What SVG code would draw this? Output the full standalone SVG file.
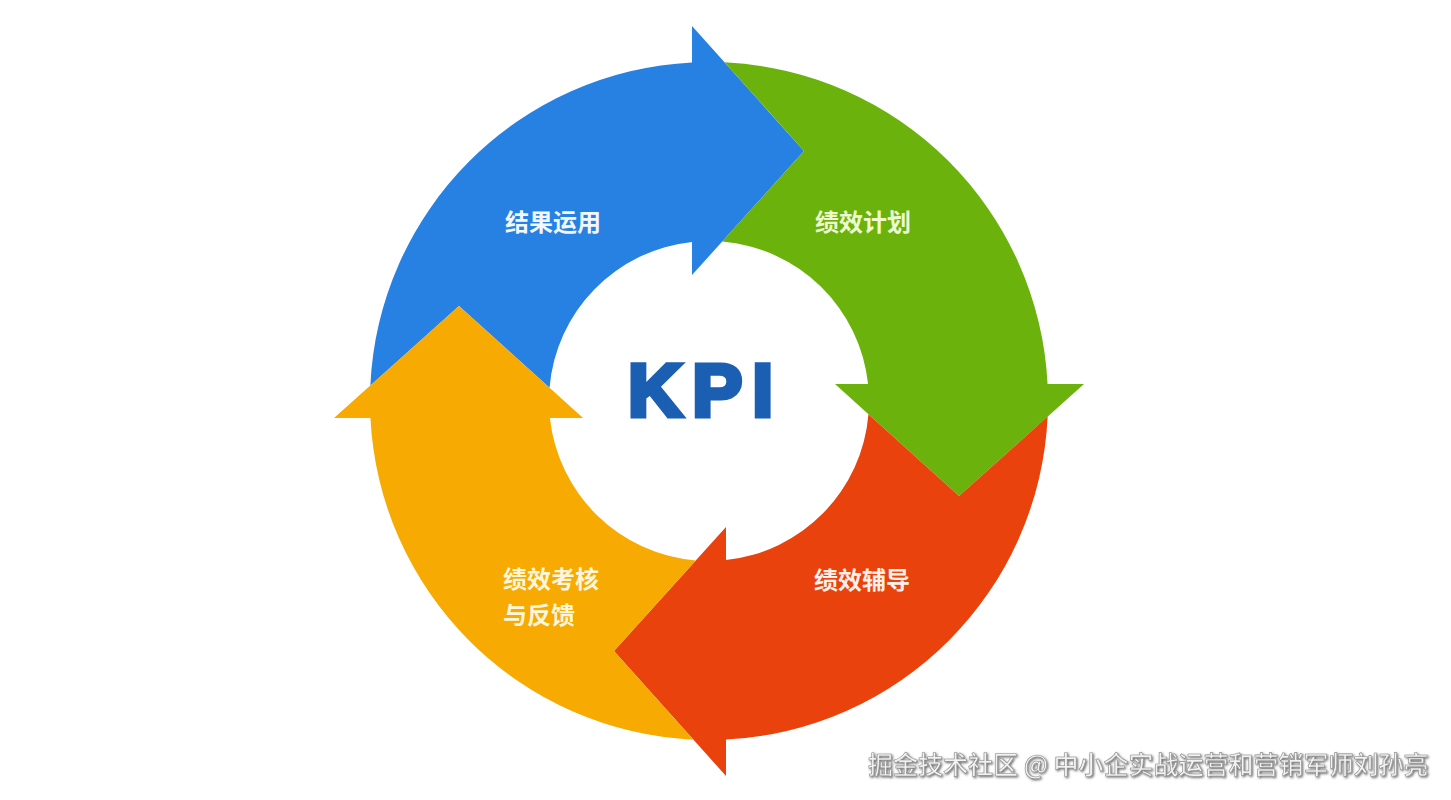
<svg xmlns="http://www.w3.org/2000/svg" xmlns:xlink="http://www.w3.org/1999/xlink" width="1451" height="800" viewBox="0 0 1451 800">
  <style>
    .lbl { font-family: "Noto Sans CJK SC", "Noto Sans", sans-serif; font-size: 24px; font-weight: 700; }
    .kpi { font-family: "Liberation Sans", Arial, sans-serif; font-size: 75px; font-weight: 700; fill: #1b5fb2; stroke: #1b5fb2; stroke-width: 5; stroke-linejoin: miter; letter-spacing: 10px; }
    .wm { font-family: "Noto Sans CJK SC", "Noto Sans", sans-serif; font-size: 25px; font-weight: 500; fill: #f2f2f2; stroke: #8c8c8c; stroke-width: 0.6; }
  </style>
  <defs>
    <path id="arrowShape" d="M -338.64,-15.58 A 339 339 0 0 1 -17,-338.57 L -17,-375 L 95,-250 L -17,-126 L -17,-159.09 A 160 160 0 0 0 -159.45,-13.22 L -250,-95 Z"/>
    <filter id="wmShadow" x="-5%" y="-30%" width="110%" height="160%">
      <feDropShadow dx="1.2" dy="1.2" stdDeviation="0.8" flood-color="#444" flood-opacity="0.8"/>
    </filter>
  </defs>
  <rect width="1451" height="800" fill="#ffffff"/>

  <g id="node-jieguoyunyong">
    <use xlink:href="#arrowShape" href="#arrowShape" transform="translate(709,401) rotate(0)" fill="#2681e3"/>
    <text class="lbl" x="553" y="231" text-anchor="middle" fill="#f2f7ff">结果运用</text>
  </g>

  <g id="node-jixiaojihua">
    <use xlink:href="#arrowShape" href="#arrowShape" transform="translate(709,401) rotate(90)" fill="#6bb20c"/>
    <text class="lbl" x="863" y="231" text-anchor="middle" fill="#eefad2">绩效计划</text>
  </g>

  <g id="node-jixiaofudao">
    <use xlink:href="#arrowShape" href="#arrowShape" transform="translate(709,401) rotate(180)" fill="#e9420d"/>
    <text class="lbl" x="862" y="589" text-anchor="middle" fill="#fff0ea">绩效辅导</text>
  </g>

  <g id="node-jixiaokaohe">
    <use xlink:href="#arrowShape" href="#arrowShape" transform="translate(709,401) rotate(270)" fill="#f6aa02"/>
    <text class="lbl" x="503" y="588" fill="#fff6dc">绩效考核</text>
    <text class="lbl" x="503" y="624" fill="#fff6dc">与反馈</text>
  </g>

  <g id="node-kpi">
    <text class="kpi" x="628" y="416">KPI</text>
  </g>

  <g id="watermark" filter="url(#wmShadow)">
    <text class="wm" x="868" y="774">掘金技术社区 @ 中小企实战运营和营销军师刘孙亮</text>
  </g>
</svg>
